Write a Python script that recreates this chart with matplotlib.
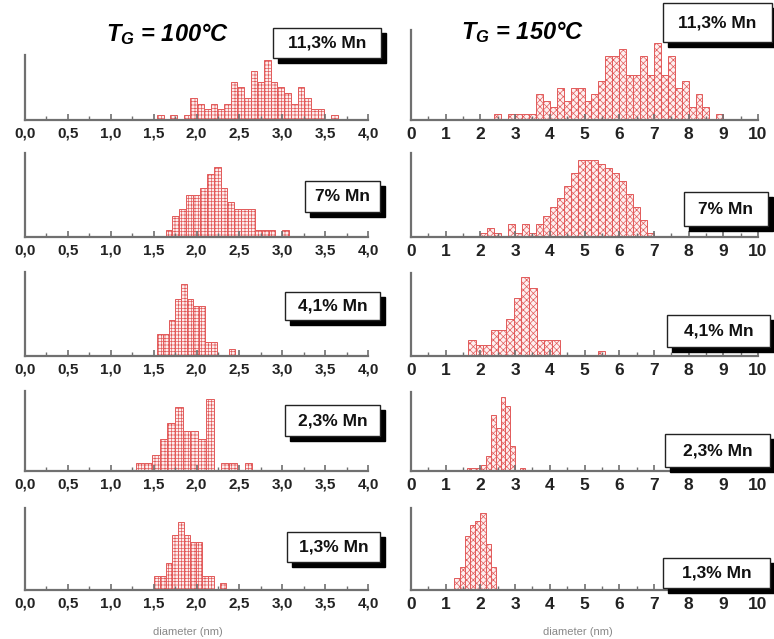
import numpy as np
import matplotlib.pyplot as plt
from matplotlib.patches import Rectangle
from matplotlib.ticker import MultipleLocator

plt.rcParams['font.family'] = ['Liberation Sans', 'DejaVu Sans']
plt.rcParams['mathtext.fontset'] = 'custom'
plt.rcParams['mathtext.it'] = 'Liberation Sans:italic:bold'
plt.rcParams['mathtext.rm'] = 'Liberation Sans:italic:bold'
plt.rcParams['hatch.linewidth'] = 0.5

# labels
mn_labels = ['11,3% Mn', '7% Mn', '4,1% Mn', '2,3% Mn', '1,3% Mn']
ticks_100 = ['0,0', '0,5', '1,0', '1,5', '2,0', '2,5', '3,0', '3,5', '4,0']
ticks_150 = [str(i) for i in range(11)]

# histograms, T_G = 100 C (bin start, bin width, counts)
start_100 = [1.54, 1.64, 1.54, 1.30, 1.50]
width_100 = [0.078, 0.08, 0.07, 0.09, 0.07]
h100_113 = [1, 0, 1, 0, 1, 4, 3, 2, 3, 2, 3, 7, 6, 4, 9, 7, 11, 7, 6, 5, 3, 6, 4, 2, 2, 0, 1]
h100_70 = [1, 3, 4, 6, 6, 7, 9, 10, 7, 5, 4, 4, 4, 1, 1, 1, 0, 1]
h100_41 = [3, 3, 5, 8, 10, 8, 7, 7, 2, 2, 0, 0, 1]
h100_23 = [1, 1, 2, 4, 6, 8, 5, 5, 4, 9, 0, 1, 1, 0, 1]
h100_13 = [2, 2, 4, 8, 10, 8, 7, 7, 2, 2, 0, 1]

# histograms, T_G = 150 C
start_150 = [2.4, 2.0, 1.64, 1.60, 1.25]
width_150 = [0.2, 0.2, 0.22, 0.14, 0.15]
h150_113 = [1, 0, 1, 1, 1, 1, 4, 3, 2, 5, 3, 5, 5, 3, 4, 6, 10, 10, 11, 7, 7, 10,
            7, 12, 7, 10, 5, 6, 2, 4, 2, 0, 1]
h150_70 = [1, 2, 1, 0, 3, 1, 3, 1, 3, 5, 7, 9, 12, 15, 18, 18, 18, 17, 16, 15, 13,
           10, 7, 4, 1]
h150_41 = [3, 2, 2, 5, 5, 7, 11, 15, 13, 3, 3, 3, 0, 0, 0, 0, 0, 1]
h150_23 = [1, 1, 1, 2, 5, 18, 14, 24, 21, 8, 0, 1]
h150_13 = [3, 6, 14, 17, 18, 20, 12, 6]

counts_100 = [h100_113, h100_70, h100_41, h100_23, h100_13]
counts_150 = [h150_113, h150_70, h150_41, h150_23, h150_13]
ytop_100 = [11.9, 12, 11.7, 10, 12]
ytop_150 = [14, 19.6, 15.8, 25.5, 21.3]

W, H = 774, 639
fig = plt.figure(figsize=(W/100, H/100), dpi=100)

def fx(x): return x/W
def fy(y): return 1 - y/H

row_bot = [120, 237, 356, 471, 590]
row_top_l = [55, 153, 272, 391, 508]
row_top_r = [30, 153, 273, 392, 508]

box_l = [(273, 28, 381, 58), (305, 181, 380, 212), (285, 292, 380, 320),
         (285, 405, 380, 436), (287, 532, 380, 562)]
box_r = [(663, 3, 772, 42), (684, 192, 768, 226), (667, 315, 770, 347),
         (665, 434, 770, 467), (663, 558, 770, 588)]

red = '#e25a5a'
axcol = '#707070'

def label_box(x0, y0, x1, y1, txt):
    s = 5
    fig.add_artist(Rectangle((fx(x0+s), fy(y1+s)), (x1-x0)/W, (y1-y0)/H,
                             transform=fig.transFigure, fc='black', ec='black', zorder=5))
    fig.add_artist(Rectangle((fx(x0), fy(y1)), (x1-x0)/W, (y1-y0)/H,
                             transform=fig.transFigure, fc='white', ec='#222222',
                             lw=1.0, zorder=6))
    fig.text(fx((x0+x1)/2), fy((y0+y1)/2), txt, ha='center', va='center',
             fontsize=12.5, fontweight='bold', color='#111111', zorder=7)

cols = [
    (25, 368, 4.0, 0.5, 0.25, ticks_100, start_100, width_100, counts_100,
     ytop_100, row_top_l, box_l, '+++++', 11),
    (411, 758, 10.0, 1.0, 0.5, ticks_150, start_150, width_150, counts_150,
     ytop_150, row_top_r, box_r, 'xxxxx', 12.5),
]

for (x0, x1, xmax, major, minor, tlabels, starts, widths, counts,
     ytops, tops, boxes, hatch, tfs) in cols:
    for i in range(5):
        ax = fig.add_axes([fx(x0), fy(row_bot[i]), (x1-x0)/W, (row_bot[i]-tops[i])/H])
        c = np.array(counts[i])
        xs = starts[i] + widths[i]*np.arange(len(c))
        ax.bar(xs, c, width=widths[i], align='edge', facecolor='#fdf0f0',
               edgecolor=red, linewidth=0.7, hatch=hatch)
        ax.set_xlim(0, xmax)
        ax.set_ylim(0, ytops[i])
        for sp in ['top', 'right']:
            ax.spines[sp].set_visible(False)
        for sp in ['left', 'bottom']:
            ax.spines[sp].set_color(axcol)
            ax.spines[sp].set_linewidth(1.6)
        ax.set_yticks([])
        ax.set_xticks(np.arange(0, xmax + 1e-9, major))
        ax.set_xticklabels(tlabels, fontsize=tfs, fontweight='bold', color='#222222')
        ax.xaxis.set_minor_locator(MultipleLocator(minor))
        ax.tick_params(axis='x', which='major', direction='in', length=4,
                       width=1.2, color=axcol, pad=5)
        ax.tick_params(axis='x', which='minor', direction='in', length=3,
                       width=1.0, color=axcol)
        ax.patch.set_alpha(0)
        label_box(*boxes[i], mn_labels[i])

fig.text(fx(168), fy(34), r'$T_G$ = 100°C', ha='center', va='center',
         fontsize=17, fontweight='bold', style='italic')
fig.text(fx(523), fy(32), r'$T_G$ = 150°C', ha='center', va='center',
         fontsize=17, fontweight='bold', style='italic')
fig.text(fx(188), fy(632), 'diameter (nm)', ha='center', va='center',
         fontsize=8, color='#888888')
fig.text(fx(578), fy(632), 'diameter (nm)', ha='center', va='center',
         fontsize=8, color='#888888')

fig.savefig('out.png', dpi=100)
